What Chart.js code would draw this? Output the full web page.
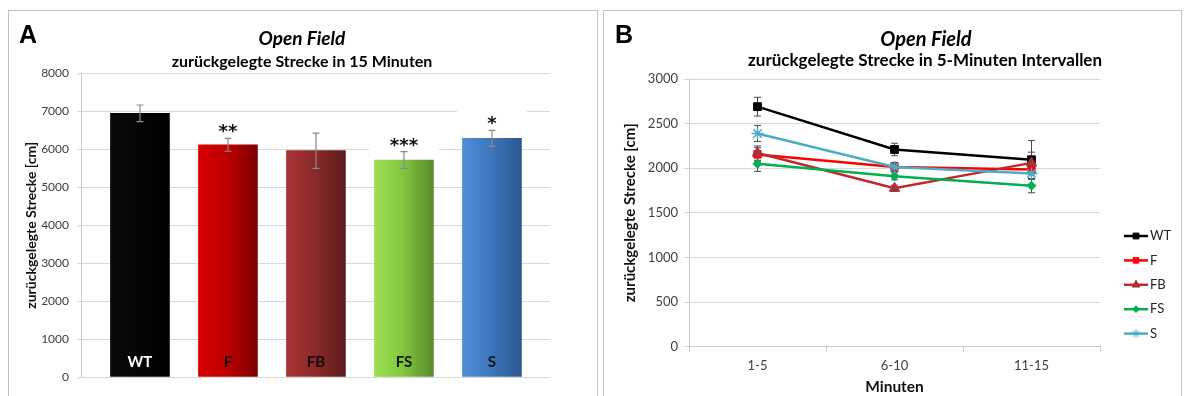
<!DOCTYPE html>
<html lang="de">
<head>
  <meta charset="UTF-8" />
  <title>Open Field</title>
  <script src="https://cdn.jsdelivr.net/npm/chart.js"></script>
  <style>
    html, body { margin: 0; padding: 0; background: #fff; overflow: hidden; }
    body { width: 1184px; height: 396px; position: relative; font-family: Lato, sans-serif; }
    .frame { position: absolute; top: 10px; height: 400px; border: 1px solid #c3c3c3; box-sizing: border-box; }
    #frameA { left: 8px; width: 590px; }
    #frameB { left: 603px; width: 579px; }
    .letter { position: absolute; font: bold 25px "Liberation Sans", Arial, sans-serif; line-height: 26px; color: #000; }
    .title { position: absolute; transform: translateX(-50%); white-space: nowrap; color: #000; font-weight: bold; line-height: 22px; }
    .title.main { font-style: italic; }
    canvas { position: absolute; }
  </style>
</head>
<body>
  <div class="frame" id="frameA"></div>
  <div class="frame" id="frameB"></div>

  <canvas id="chartA" width="588" height="385" style="left:9px; top:11px;"></canvas>
  <canvas id="chartB" width="576" height="385" style="left:604px; top:11px;"></canvas>

  <div class="letter" style="left:19px; top:21px;">A</div>
  <div class="title main" style="left:302px; top:26.5px; font-size:19px;">Open Field</div>
  <div class="title sub" style="left:302px; top:50px; font-size:16px;">zurückgelegte Strecke in 15 Minuten</div>

  <div class="letter" style="left:615px; top:21px;">B</div>
  <div class="title main" style="left:926px; top:26.5px; font-size:20px;">Open Field</div>
  <div class="title sub" style="left:925px; top:49px; font-size:17px;">zurückgelegte Strecke in 5-Minuten Intervallen</div>

  <script>
    // --- panel A: total distance in 15 min ---
    const groups = ['WT', 'F', 'FB', 'FS', 'S'];
    const totalMeans = [6950, 6120, 5965, 5720, 6290];
    const totalErrors = [220, 170, 465, 220, 210];
    const totalStars = ['', '**', '', '***', '*'];

    // --- panel B: distance per 5-min interval ---
    const intervals = ['1-5', '6-10', '11-15'];
    const wtValues = [2690, 2210, 2095];
    const wtErrors = [105, 70, 215];
    const fValues = [2155, 2015, 1985];
    const fErrors = [75, 45, 60];
    const fbValues = [2170, 1775, 2060];
    const fbErrors = [80, 35, 120];
    const fsValues = [2050, 1910, 1805];
    const fsErrors = [85, 40, 80];
    const sValues = [2390, 2015, 1940];
    const sErrors = [90, 50, 65];

    const yTitle = 'zurückgelegte Strecke [cm]';

    // bar colours (left / middle / right of gradient) and label colours
    const barLeft = ['#0a0a0a', '#d80000', '#a83434', '#9ce050', '#4f8fd8'];
    const barMid = ['#050505', '#c00000', '#8c2a2a', '#84c840', '#3f78bd'];
    const barRight = ['#000000', '#7e0000', '#5c1c1c', '#588c2c', '#2b5890'];
    const labelColors = ['#ffffff', '#1a0000', '#1a0a0a', '#0f1a05', '#0a1420'];
    const barWidth = 59;

    Chart.defaults.font.family = 'Lato, "Open Sans", sans-serif';
    Chart.defaults.color = '#404040';

    const barExtras = {
      id: 'barExtras',
      afterDatasetsDraw(chart) {
        const { ctx, scales: { x, y } } = chart;
        ctx.save();
        groups.forEach((g, i) => {
          const cx = x.getPixelForValue(i);
          const top = y.getPixelForValue(totalMeans[i] + totalErrors[i]);
          const bot = y.getPixelForValue(totalMeans[i] - totalErrors[i]);

          if (totalStars[i]) {
            ctx.fillStyle = '#ffffff';
            ctx.fillRect(cx - 35, top - 20.5, 70, 20);
          }

          ctx.strokeStyle = '#8a8a8a';
          ctx.lineWidth = 1.2;
          ctx.beginPath();
          ctx.moveTo(cx, top); ctx.lineTo(cx, bot);
          ctx.moveTo(cx - 3.5, top); ctx.lineTo(cx + 3.5, top);
          ctx.moveTo(cx - 3.5, bot); ctx.lineTo(cx + 3.5, bot);
          ctx.stroke();

          ctx.textAlign = 'center';
          if (totalStars[i]) {
            ctx.fillStyle = '#111';
            ctx.font = 'bold 18px "DejaVu Sans", sans-serif';
            ctx.textBaseline = 'alphabetic';
            ctx.fillText(totalStars[i], cx, top - 1);
          }

          ctx.fillStyle = labelColors[i];
          ctx.font = 'bold 15px Lato, sans-serif';
          ctx.textBaseline = 'middle';
          ctx.fillText(g, cx, y.getPixelForValue(0) - 15);
        });
        ctx.restore();
      }
    };

    function barFill(c) {
      const chart = c.chart;
      const i = c.dataIndex;
      if (!chart.chartArea || c.type !== 'data') return barMid[i];
      const cx = chart.scales.x.getPixelForValue(i);
      const g = chart.ctx.createLinearGradient(cx - barWidth / 2, 0, cx + barWidth / 2, 0);
      g.addColorStop(0, barLeft[i]);
      g.addColorStop(0.45, barMid[i]);
      g.addColorStop(1, barRight[i]);
      return g;
    }

    new Chart(document.getElementById('chartA'), {
      type: 'bar',
      data: {
        datasets: [{
          data: totalMeans.map((v, i) => ({ x: i, y: v })),
          backgroundColor: barFill,
          borderWidth: 0,
          barThickness: barWidth
        }]
      },
      options: {
        responsive: false,
        animation: false,
        layout: { padding: { top: 62.5, right: 47, bottom: 19, left: 0 } },
        plugins: { legend: { display: false }, tooltip: { enabled: false } },
        scales: {
          x: { type: 'linear', display: false, offset: false, min: -0.67, max: 4.66 },
          y: {
            min: 0, max: 8000,
            ticks: { stepSize: 1000, padding: 8, font: { size: 12 }, color: '#404040', format: { useGrouping: false } },
            grid: { color: '#d9d9d9', tickLength: 4 },
            border: { color: '#c8c8c8' },
            title: { display: true, text: yTitle, color: '#111', font: { size: 14, weight: 'bold' }, padding: { top: 13.6, bottom: 0 } },
            afterFit(scale) { scale.width = 72; }
          }
        }
      },
      plugins: [barExtras]
    });

    // --- panel B ---
    const lineErrors = {
      id: 'lineErrors',
      beforeDatasetsDraw(chart) {
        const { ctx, scales: { x, y } } = chart;
        ctx.save();
        ctx.strokeStyle = '#4a4a4a';
        ctx.lineWidth = 1;
        chart.data.datasets.forEach(ds => {
          ds.errors.forEach((e, i) => {
            const cx = x.getPixelForValue(i);
            const t = y.getPixelForValue(ds.data[i] + e);
            const b = y.getPixelForValue(ds.data[i] - e);
            ctx.beginPath();
            ctx.moveTo(cx, t); ctx.lineTo(cx, b);
            ctx.moveTo(cx - 3.5, t); ctx.lineTo(cx + 3.5, t);
            ctx.moveTo(cx - 3.5, b); ctx.lineTo(cx + 3.5, b);
            ctx.stroke();
          });
        });
        ctx.restore();
      }
    };

    const sideLegend = {
      id: 'sideLegend',
      afterDraw(chart) {
        const { ctx, chartArea } = chart;
        const x0 = chartArea.right + 24;
        ctx.save();
        chart.data.datasets.forEach((ds, i) => {
          const yy = chartArea.top + 157 + i * 24.4;
          ctx.strokeStyle = ds.borderColor;
          ctx.lineWidth = 2.5;
          ctx.beginPath();
          ctx.moveTo(x0, yy); ctx.lineTo(x0 + 24, yy);
          ctx.stroke();
          ctx.fillStyle = ds.pointBackgroundColor;
          ctx.strokeStyle = ds.pointBorderColor;
          ctx.lineWidth = 1;
          Chart.helpers.drawPoint(ctx, { pointStyle: ds.pointStyle, radius: ds.pointRadius * 0.75, rotation: 0, borderWidth: 1 }, x0 + 12, yy);
          ctx.fillStyle = '#262626';
          ctx.font = '13px Lato, sans-serif';
          ctx.textAlign = 'left';
          ctx.textBaseline = 'middle';
          ctx.fillText(ds.label, x0 + 26, yy);
        });
        ctx.restore();
      }
    };

    function series(label, values, errors, line, mark, style, radius, order) {
      return {
        label, data: values, errors,
        borderColor: line, borderWidth: 2.5, tension: 0,
        pointStyle: style, pointRadius: radius,
        pointBackgroundColor: mark, pointBorderColor: mark, pointBorderWidth: style === 'star' ? 1.5 : 1,
        order
      };
    }

    new Chart(document.getElementById('chartB'), {
      type: 'line',
      data: {
        labels: intervals,
        datasets: [
          series('WT', wtValues, wtErrors, '#000000', '#000000', 'rect', 5.5, 5),
          series('F', fValues, fErrors, '#ff0000', '#ff0000', 'rect', 5.2, 4),
          series('FB', fbValues, fbErrors, '#c0282d', '#a8323a', 'triangle', 6, 3),
          series('FS', fsValues, fsErrors, '#00b050', '#00b050', 'rectRot', 4.5, 2),
          series('S', sValues, sErrors, '#4bacc6', '#4bacc6', 'star', 6, 1)
        ]
      },
      options: {
        responsive: false,
        animation: false,
        layout: { padding: { top: 68, right: 80, bottom: 0, left: 0 } },
        plugins: { legend: { display: false }, tooltip: { enabled: false } },
        scales: {
          x: {
            offset: true,
            ticks: { padding: 6, font: { size: 13 }, color: '#404040' },
            grid: { offset: true, drawOnChartArea: false, tickLength: 5, color: '#c8c8c8' },
            border: { color: '#c8c8c8' },
            title: { display: true, text: 'Minuten', color: '#111', font: { size: 15.5, weight: 'bold' }, padding: { top: 0, bottom: 0 } },
            afterFit(scale) { scale.height = 49.3; }
          },
          y: {
            min: 0, max: 3000,
            ticks: { stepSize: 500, padding: 6, font: { size: 13 }, color: '#404040', format: { useGrouping: false } },
            grid: { color: '#d9d9d9', tickLength: 5 },
            border: { color: '#c8c8c8' },
            title: { display: true, text: yTitle, color: '#111', font: { size: 15, weight: 'bold' }, padding: { top: 17, bottom: 0 } },
            afterFit(scale) { scale.width = 85; }
          }
        }
      },
      plugins: [lineErrors, sideLegend]
    });
  </script>
</body>
</html>
